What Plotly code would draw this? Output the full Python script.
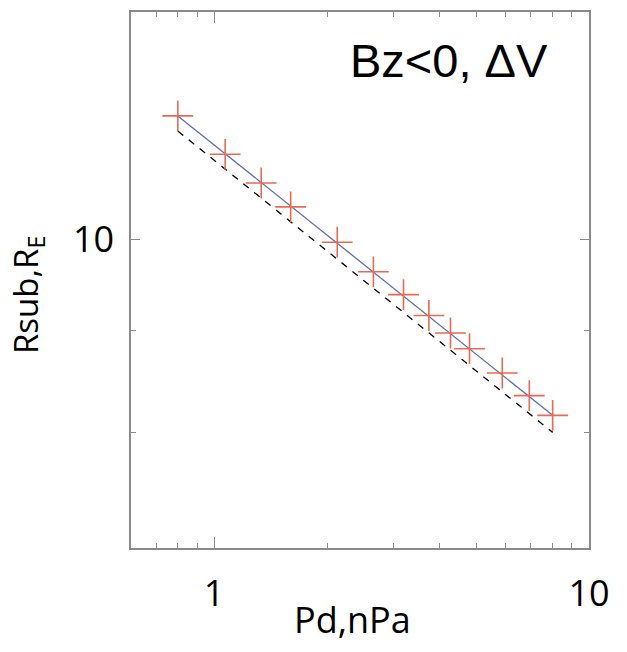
import plotly.graph_objects as go
import math

# Data
pd_npa = [0.8, 1.07, 1.335, 1.6, 2.13, 2.66, 3.2, 3.74, 4.27, 4.8, 5.87, 6.93, 8.0]
rsub = [11.53, 11.03, 10.67, 10.38, 9.965, 9.63, 9.38, 9.156, 8.973, 8.812, 8.568, 8.347, 8.159]

fit_x = [0.8, 8.0]
fit_y = [11.53, 8.159]

ref_x = [0.8, 8.0]
ref_y = [11.33, 8.0]

x_major = [1, 10]
x_major_text = ["1", "10"]
x_minor = [0.7, 0.8, 0.9, 2, 3, 4, 5, 6, 7, 8, 9]
y_major = [10]
y_major_text = ["10"]
y_minor = [7, 8, 9]

x_range = [0.6, 10]
y_range = [7.0, 13.0]

fig = go.Figure()
fig.add_trace(go.Scatter(x=ref_x, y=ref_y, mode="lines",
                         line=dict(color="black", width=1.3, dash="7px,7px"),
                         showlegend=False))
fig.add_trace(go.Scatter(x=fit_x, y=fit_y, mode="lines",
                         line=dict(color="#5a6fbf", width=1.3),
                         showlegend=False))
fig.add_trace(go.Scatter(x=pd_npa, y=rsub, mode="markers",
                         marker=dict(symbol="cross-thin", size=22,
                                     line=dict(color="#ea6a50", width=1.6)),
                         showlegend=False))

axis_common = dict(
    type="log", showgrid=False, zeroline=False, automargin=False,
    showline=True, linecolor="#8a8a8a", linewidth=1.5,
    mirror="ticks", ticks="inside", tickcolor="#8a8a8a", tickwidth=1.2,
    tickfont=dict(family="Open Sans", size=36, color="black"),
)

fig.update_xaxes(**axis_common,
                 range=[math.log10(x_range[0]), math.log10(x_range[1])],
                 tickmode="array", tickvals=x_major, ticktext=x_major_text,
                 ticklen=11, ticklabelstandoff=13,
                 minor=dict(tickmode="array", tickvals=x_minor, ticklen=5,
                            ticks="inside", tickcolor="#8a8a8a", tickwidth=1.2))
fig.update_yaxes(**axis_common,
                 range=[math.log10(y_range[0]), math.log10(y_range[1])],
                 tickmode="array", tickvals=y_major, ticktext=y_major_text,
                 ticklen=9, ticklabelstandoff=8,
                 minor=dict(tickmode="array", tickvals=y_minor, ticklen=5,
                            ticks="inside", tickcolor="#8a8a8a", tickwidth=1.2))

fig.add_annotation(text="Bz<0, ΔV", xref="paper", yref="paper",
                   x=(449 - 131) / 458, y=1 - (60 - 12) / 536,
                   xanchor="center", yanchor="middle",
                   showarrow=False,
                   font=dict(family="Liberation Sans", size=47, color="black"))
fig.add_annotation(text="Pd,nPa", xref="paper", yref="paper",
                   x=(352 - 131) / 458, y=-(619 - 548) / 536,
                   xanchor="center", yanchor="middle", showarrow=False,
                   font=dict(family="Open Sans", size=36, color="black"))
fig.add_annotation(text="Rsub,R<sub>E</sub>", xref="paper", yref="paper",
                   x=-(131 - 27) / 458, y=1 - (295 - 12) / 536,
                   xanchor="center", yanchor="middle", textangle=-90,
                   showarrow=False,
                   font=dict(family="Open Sans", size=33, color="black"))

fig.update_layout(width=627, height=652,
                  margin=dict(l=131, r=38, t=12, b=104),
                  plot_bgcolor="white", paper_bgcolor="white")

fig.write_html("out.html", config={"displayModeBar": False},
               post_script="document.body.style.margin='0';")
